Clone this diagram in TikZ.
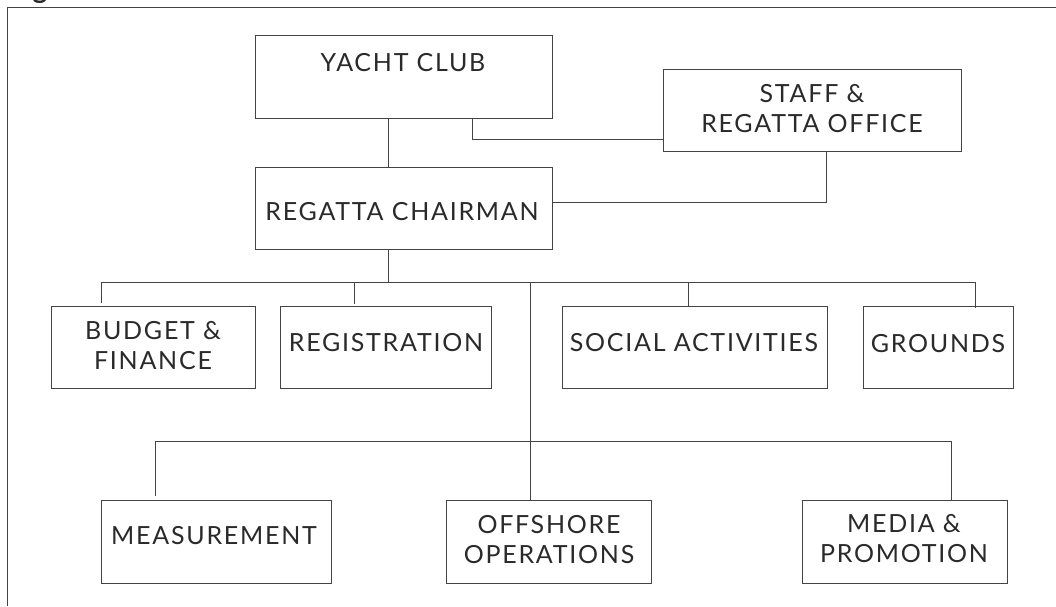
\documentclass[tikz,border=0pt]{standalone}
\usepackage{fontspec}
\setmainfont{Lato}
\newfontfamily\boxfont{Lato}[LetterSpace=7]
\definecolor{ink}{HTML}{2A2A2A}
\definecolor{rule}{HTML}{444444}
\tikzset{
  box/.style={draw=rule, line width=1pt, rectangle, inner sep=0pt},
  lbl/.style={text=ink, inner sep=0pt, align=center, font=\boxfont\fontsize{25}{30}\selectfont},
  conn/.style={draw=rule, line width=1pt},
  frame/.style={draw=rule, line width=1pt}
}
\begin{document}
\begin{tikzpicture}[x=1pt, y=-1pt]
\useasboundingbox (0,0) rectangle (1056,606);
% outer frame (open to the right and bottom) and clipped heading letter
\node[anchor=base, text=ink, inner sep=0pt, font=\fontsize{28}{28}\bfseries] (head) at (40,-1.5) {g};
\coordinate (fa) at (7.5,606);
\coordinate (fb) at (7.5,7);
\coordinate (fc) at (1056,7);
\draw[frame] (fa) -- (fb) -- (fc);

% boxes
\node[box, minimum width=297pt, minimum height=83pt] (yc)    at (403.5,76.5) {};
\node[box, minimum width=298pt, minimum height=82pt] (staff) at (812,110) {};
\node[box, minimum width=297pt, minimum height=82pt] (rc)    at (403.5,208) {};
\node[box, minimum width=204pt, minimum height=82pt] (bf)    at (153,347) {};
\node[box, minimum width=211pt, minimum height=82pt] (reg)   at (385.5,347) {};
\node[box, minimum width=265pt, minimum height=82pt] (soc)   at (694.5,347) {};
\node[box, minimum width=150pt, minimum height=82pt] (gr)    at (938,347) {};
\node[box, minimum width=230pt, minimum height=83pt] (meas)  at (216,541.5) {};
\node[box, minimum width=205pt, minimum height=83pt] (off)   at (548.5,541.5) {};
\node[box, minimum width=205pt, minimum height=83pt] (med)   at (904.5,541.5) {};

% labels
\node[lbl] (yct)   at (403,63)    {YACHT CLUB};
\node[lbl] (stt)   at (812,109)   {STAFF \&\\REGATTA OFFICE};
\node[lbl] (rct)   at (402,212)   {REGATTA CHAIRMAN};
\node[lbl] (bft)   at (153,346)   {BUDGET \&\\FINANCE};
\node[lbl] (regt)  at (386,343)   {REGISTRATION};
\node[lbl] (soct)  at (694,343)   {SOCIAL ACTIVITIES};
\node[lbl] (grt)   at (938,344)   {GROUNDS};
\node[lbl] (meast) at (214,536)   {MEASUREMENT};
\node[lbl] (offt)  at (549,540)   {OFFSHORE\\OPERATIONS};
\node[lbl] (medt)  at (904,539)   {MEDIA \&\\PROMOTION};

% junctions
\coordinate (j1) at (388,282);
\coordinate (j2) at (530,441);

% connectors
\draw[conn] ([xshift=-15.5pt]yc.south) -- ([xshift=-15.5pt]rc.north);
\draw[conn] ([xshift=68.5pt]yc.south) |- ([yshift=-29pt]staff.west);
\draw[conn] ([yshift=6pt]rc.east) -| ([xshift=14pt]staff.south);
\draw[conn] (rc.south -| j1) -- (j1);
\draw[conn] ([xshift=-52pt,yshift=3pt]bf.north) |- ([xshift=37pt]gr.north |- j1) -- ([xshift=37pt,yshift=-2pt]gr.north);
\draw[conn] ([xshift=-31.5pt,yshift=2pt]reg.north) -- ([xshift=-31.5pt]reg.north |- j1);
\draw[conn] ([xshift=-6.5pt]soc.north) -- ([xshift=-6.5pt]soc.north |- j1);
\draw[conn] (off.north -| j2) -- (j2 |- j1);
\draw[conn] ([xshift=-61pt,yshift=4pt]meas.north) |- ([xshift=46.5pt]med.north |- j2) -- ([xshift=46.5pt,yshift=-1.5pt]med.north);
\end{tikzpicture}
\end{document}
